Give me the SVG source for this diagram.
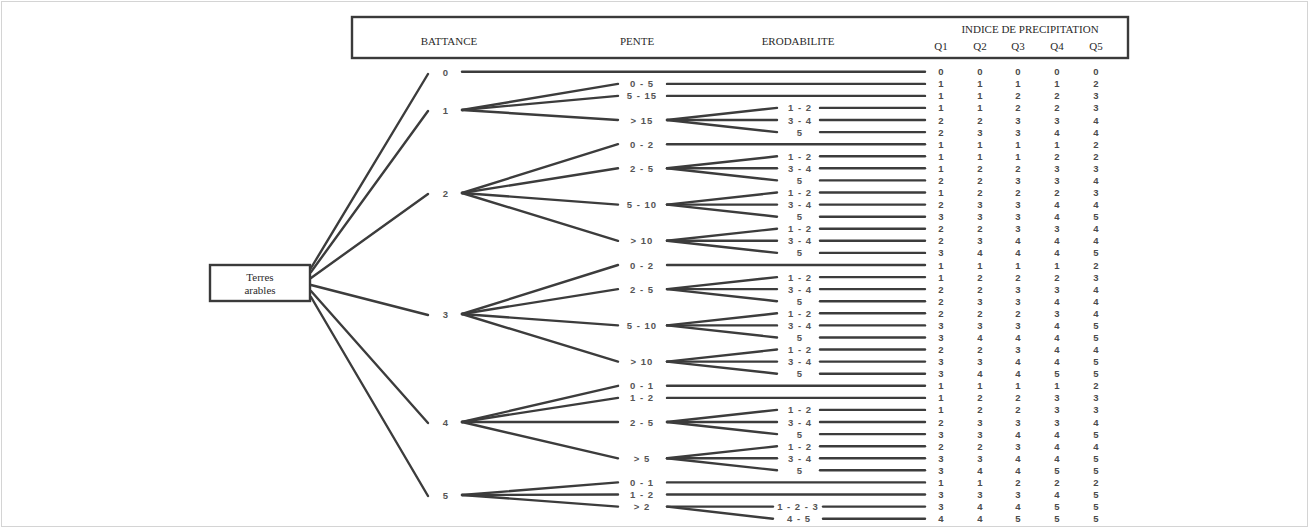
<svg xmlns="http://www.w3.org/2000/svg" width="1309" height="528" viewBox="0 0 1309 528">
<style>
.frame{fill:#fff;stroke:#d4d4d4;stroke-width:1}
.box{fill:#fff;stroke:#3a3a3a;stroke-width:2.4}
.hd{font-family:"Liberation Serif","Times New Roman",serif;font-size:11px;fill:#2a2a2a;text-anchor:middle;dominant-baseline:central}
.lbl{font-family:"Liberation Sans",Arial,sans-serif;font-size:9.5px;fill:#555;text-anchor:middle;dominant-baseline:central;letter-spacing:1px;font-weight:bold}
.val{font-family:"Liberation Sans",Arial,sans-serif;font-size:9.5px;fill:#4a4a4a;text-anchor:middle;dominant-baseline:central;font-weight:bold}
.c line{stroke:#3c3c3c;stroke-width:2.4;stroke-linecap:round}
</style>
<rect class="frame" x="1.5" y="1.5" width="1306" height="525"/>

<g id="header">
<rect class="box" x="352" y="17" width="776" height="41"/>
<text class="hd" x="449" y="41">BATTANCE</text>
<text class="hd" x="637" y="41">PENTE</text>
<text class="hd" x="798" y="41">ERODABILITE</text>
<text class="hd" x="1030" y="29">INDICE DE PRECIPITATION</text>
<text class="hd" x="941" y="46">Q1</text>
<text class="hd" x="980" y="46">Q2</text>
<text class="hd" x="1018" y="46">Q3</text>
<text class="hd" x="1057" y="46">Q4</text>
<text class="hd" x="1096" y="46">Q5</text>
</g>

<g id="terres-arables">
<rect class="box" x="210" y="265" width="100" height="36"/>
<text class="hd" x="260" y="277">Terres</text>
<text class="hd" x="260" y="290">arables</text>
</g>

<g id="connectors" class="c">
<!-- root to battance -->
<line x1="311" y1="268" x2="428" y2="74"/>
<line x1="311" y1="272" x2="428" y2="111"/>
<line x1="311" y1="278" x2="428" y2="194"/>
<line x1="311" y1="285" x2="428" y2="315"/>
<line x1="311" y1="291" x2="428" y2="423"/>
<line x1="311" y1="297" x2="428" y2="496"/>
<!-- battance 0 -->
<line x1="462" y1="71.7" x2="925" y2="71.7"/>
<!-- battance 1 fan -->
<line x1="462" y1="110" x2="618" y2="83.9"/>
<line x1="462" y1="110" x2="618" y2="95.9"/>
<line x1="462" y1="110" x2="618" y2="120"/>
<!-- battance 2 fan -->
<line x1="462" y1="193" x2="618" y2="144.2"/>
<line x1="462" y1="193" x2="618" y2="168.3"/>
<line x1="462" y1="193" x2="618" y2="204.6"/>
<line x1="462" y1="193" x2="618" y2="240.8"/>
<!-- battance 3 fan -->
<line x1="462" y1="314" x2="618" y2="265"/>
<line x1="462" y1="314" x2="618" y2="289.1"/>
<line x1="462" y1="314" x2="618" y2="325.4"/>
<line x1="462" y1="314" x2="618" y2="361.6"/>
<!-- battance 4 fan -->
<line x1="462" y1="422" x2="618" y2="385.8"/>
<line x1="462" y1="422" x2="618" y2="397.9"/>
<line x1="462" y1="422" x2="618" y2="422"/>
<line x1="462" y1="422" x2="618" y2="458.3"/>
<!-- battance 5 fan -->
<line x1="462" y1="495" x2="618" y2="482.4"/>
<line x1="462" y1="495" x2="618" y2="494.5"/>
<line x1="462" y1="495" x2="618" y2="506.6"/>
<!-- pente straight lines -->
<line x1="667" y1="83.9" x2="925" y2="83.9"/>
<line x1="667" y1="95.9" x2="925" y2="95.9"/>
<line x1="667" y1="144.2" x2="925" y2="144.2"/>
<line x1="667" y1="265" x2="925" y2="265"/>
<line x1="667" y1="385.8" x2="925" y2="385.8"/>
<line x1="667" y1="397.9" x2="925" y2="397.9"/>
<line x1="667" y1="482.4" x2="925" y2="482.4"/>
<line x1="667" y1="494.5" x2="925" y2="494.5"/>
<!-- pente to erodabilite fans -->
<line x1="667" y1="120" x2="777" y2="107.9"/><line x1="667" y1="120" x2="777" y2="120"/><line x1="667" y1="120" x2="777" y2="132.1"/>
<line x1="667" y1="168.3" x2="777" y2="156.3"/><line x1="667" y1="168.3" x2="777" y2="168.3"/><line x1="667" y1="168.3" x2="777" y2="180.4"/>
<line x1="667" y1="204.6" x2="777" y2="192.5"/><line x1="667" y1="204.6" x2="777" y2="204.6"/><line x1="667" y1="204.6" x2="777" y2="216.7"/>
<line x1="667" y1="240.8" x2="777" y2="228.7"/><line x1="667" y1="240.8" x2="777" y2="240.8"/><line x1="667" y1="240.8" x2="777" y2="252.9"/>
<line x1="667" y1="289.1" x2="777" y2="277.1"/><line x1="667" y1="289.1" x2="777" y2="289.1"/><line x1="667" y1="289.1" x2="777" y2="301.2"/>
<line x1="667" y1="325.4" x2="777" y2="313.3"/><line x1="667" y1="325.4" x2="777" y2="325.4"/><line x1="667" y1="325.4" x2="777" y2="337.5"/>
<line x1="667" y1="361.6" x2="777" y2="349.5"/><line x1="667" y1="361.6" x2="777" y2="361.6"/><line x1="667" y1="361.6" x2="777" y2="373.7"/>
<line x1="667" y1="422" x2="777" y2="409.9"/><line x1="667" y1="422" x2="777" y2="422"/><line x1="667" y1="422" x2="777" y2="434.1"/>
<line x1="667" y1="458.3" x2="777" y2="446.2"/><line x1="667" y1="458.3" x2="777" y2="458.3"/><line x1="667" y1="458.3" x2="777" y2="470.3"/>
<line x1="667" y1="506.6" x2="773" y2="506.6"/><line x1="667" y1="506.6" x2="773" y2="518.7"/>
<!-- erodabilite to values -->
<line x1="820" y1="107.9" x2="925" y2="107.9"/><line x1="820" y1="120" x2="925" y2="120"/><line x1="820" y1="132.1" x2="925" y2="132.1"/>
<line x1="820" y1="156.3" x2="925" y2="156.3"/><line x1="820" y1="168.3" x2="925" y2="168.3"/><line x1="820" y1="180.4" x2="925" y2="180.4"/>
<line x1="820" y1="192.5" x2="925" y2="192.5"/><line x1="820" y1="204.6" x2="925" y2="204.6"/><line x1="820" y1="216.7" x2="925" y2="216.7"/>
<line x1="820" y1="228.7" x2="925" y2="228.7"/><line x1="820" y1="240.8" x2="925" y2="240.8"/><line x1="820" y1="252.9" x2="925" y2="252.9"/>
<line x1="820" y1="277.1" x2="925" y2="277.1"/><line x1="820" y1="289.1" x2="925" y2="289.1"/><line x1="820" y1="301.2" x2="925" y2="301.2"/>
<line x1="820" y1="313.3" x2="925" y2="313.3"/><line x1="820" y1="325.4" x2="925" y2="325.4"/><line x1="820" y1="337.5" x2="925" y2="337.5"/>
<line x1="820" y1="349.5" x2="925" y2="349.5"/><line x1="820" y1="361.6" x2="925" y2="361.6"/><line x1="820" y1="373.7" x2="925" y2="373.7"/>
<line x1="820" y1="409.9" x2="925" y2="409.9"/><line x1="820" y1="422" x2="925" y2="422"/><line x1="820" y1="434.1" x2="925" y2="434.1"/>
<line x1="820" y1="446.2" x2="925" y2="446.2"/><line x1="820" y1="458.3" x2="925" y2="458.3"/><line x1="820" y1="470.3" x2="925" y2="470.3"/>
<line x1="823" y1="506.6" x2="925" y2="506.6"/><line x1="823" y1="518.7" x2="925" y2="518.7"/>
</g>

<g id="battance">
<text class="lbl" x="446" y="72">0</text>
<text class="lbl" x="446" y="110">1</text>
<text class="lbl" x="446" y="193">2</text>
<text class="lbl" x="446" y="314">3</text>
<text class="lbl" x="446" y="422">4</text>
<text class="lbl" x="446" y="495">5</text>
</g>

<g id="pente">
<text class="lbl" x="642" y="83.9">0 - 5</text>
<text class="lbl" x="642" y="95.9">5 - 15</text>
<text class="lbl" x="642" y="120">&gt; 15</text>
<text class="lbl" x="642" y="144.2">0 - 2</text>
<text class="lbl" x="642" y="168.3">2 - 5</text>
<text class="lbl" x="642" y="204.6">5 - 10</text>
<text class="lbl" x="642" y="240.8">&gt; 10</text>
<text class="lbl" x="642" y="265">0 - 2</text>
<text class="lbl" x="642" y="289.1">2 - 5</text>
<text class="lbl" x="642" y="325.4">5 - 10</text>
<text class="lbl" x="642" y="361.6">&gt; 10</text>
<text class="lbl" x="642" y="385.8">0 - 1</text>
<text class="lbl" x="642" y="397.9">1 - 2</text>
<text class="lbl" x="642" y="422">2 - 5</text>
<text class="lbl" x="642" y="458.3">&gt; 5</text>
<text class="lbl" x="642" y="482.4">0 - 1</text>
<text class="lbl" x="642" y="494.5">1 - 2</text>
<text class="lbl" x="642" y="506.6">&gt; 2</text>
</g>

<g id="erodabilite">
<text class="lbl" x="800" y="107.9">1 - 2</text><text class="lbl" x="800" y="120">3 - 4</text><text class="lbl" x="800" y="132.1">5</text>
<text class="lbl" x="800" y="156.3">1 - 2</text><text class="lbl" x="800" y="168.3">3 - 4</text><text class="lbl" x="800" y="180.4">5</text>
<text class="lbl" x="800" y="192.5">1 - 2</text><text class="lbl" x="800" y="204.6">3 - 4</text><text class="lbl" x="800" y="216.7">5</text>
<text class="lbl" x="800" y="228.7">1 - 2</text><text class="lbl" x="800" y="240.8">3 - 4</text><text class="lbl" x="800" y="252.9">5</text>
<text class="lbl" x="800" y="277.1">1 - 2</text><text class="lbl" x="800" y="289.1">3 - 4</text><text class="lbl" x="800" y="301.2">5</text>
<text class="lbl" x="800" y="313.3">1 - 2</text><text class="lbl" x="800" y="325.4">3 - 4</text><text class="lbl" x="800" y="337.5">5</text>
<text class="lbl" x="800" y="349.5">1 - 2</text><text class="lbl" x="800" y="361.6">3 - 4</text><text class="lbl" x="800" y="373.7">5</text>
<text class="lbl" x="800" y="409.9">1 - 2</text><text class="lbl" x="800" y="422">3 - 4</text><text class="lbl" x="800" y="434.1">5</text>
<text class="lbl" x="800" y="446.2">1 - 2</text><text class="lbl" x="800" y="458.3">3 - 4</text><text class="lbl" x="800" y="470.3">5</text>
<text class="lbl" x="798" y="506.6">1 - 2 - 3</text><text class="lbl" x="799" y="518.7">4 - 5</text>
</g>

<g id="indices">
<g transform="translate(0,71.7)"><text class="val" x="941">0</text><text class="val" x="980">0</text><text class="val" x="1018">0</text><text class="val" x="1057">0</text><text class="val" x="1096">0</text></g>
<g transform="translate(0,83.9)"><text class="val" x="941">1</text><text class="val" x="980">1</text><text class="val" x="1018">1</text><text class="val" x="1057">1</text><text class="val" x="1096">2</text></g>
<g transform="translate(0,95.9)"><text class="val" x="941">1</text><text class="val" x="980">1</text><text class="val" x="1018">2</text><text class="val" x="1057">2</text><text class="val" x="1096">3</text></g>
<g transform="translate(0,107.9)"><text class="val" x="941">1</text><text class="val" x="980">1</text><text class="val" x="1018">2</text><text class="val" x="1057">2</text><text class="val" x="1096">3</text></g>
<g transform="translate(0,120)"><text class="val" x="941">2</text><text class="val" x="980">2</text><text class="val" x="1018">3</text><text class="val" x="1057">3</text><text class="val" x="1096">4</text></g>
<g transform="translate(0,132.1)"><text class="val" x="941">2</text><text class="val" x="980">3</text><text class="val" x="1018">3</text><text class="val" x="1057">4</text><text class="val" x="1096">4</text></g>
<g transform="translate(0,144.2)"><text class="val" x="941">1</text><text class="val" x="980">1</text><text class="val" x="1018">1</text><text class="val" x="1057">1</text><text class="val" x="1096">2</text></g>
<g transform="translate(0,156.3)"><text class="val" x="941">1</text><text class="val" x="980">1</text><text class="val" x="1018">1</text><text class="val" x="1057">2</text><text class="val" x="1096">2</text></g>
<g transform="translate(0,168.3)"><text class="val" x="941">1</text><text class="val" x="980">2</text><text class="val" x="1018">2</text><text class="val" x="1057">3</text><text class="val" x="1096">3</text></g>
<g transform="translate(0,180.4)"><text class="val" x="941">2</text><text class="val" x="980">2</text><text class="val" x="1018">3</text><text class="val" x="1057">3</text><text class="val" x="1096">4</text></g>
<g transform="translate(0,192.5)"><text class="val" x="941">1</text><text class="val" x="980">2</text><text class="val" x="1018">2</text><text class="val" x="1057">2</text><text class="val" x="1096">3</text></g>
<g transform="translate(0,204.6)"><text class="val" x="941">2</text><text class="val" x="980">3</text><text class="val" x="1018">3</text><text class="val" x="1057">4</text><text class="val" x="1096">4</text></g>
<g transform="translate(0,216.7)"><text class="val" x="941">3</text><text class="val" x="980">3</text><text class="val" x="1018">3</text><text class="val" x="1057">4</text><text class="val" x="1096">5</text></g>
<g transform="translate(0,228.7)"><text class="val" x="941">2</text><text class="val" x="980">2</text><text class="val" x="1018">3</text><text class="val" x="1057">3</text><text class="val" x="1096">4</text></g>
<g transform="translate(0,240.8)"><text class="val" x="941">2</text><text class="val" x="980">3</text><text class="val" x="1018">4</text><text class="val" x="1057">4</text><text class="val" x="1096">4</text></g>
<g transform="translate(0,252.9)"><text class="val" x="941">3</text><text class="val" x="980">4</text><text class="val" x="1018">4</text><text class="val" x="1057">4</text><text class="val" x="1096">5</text></g>
<g transform="translate(0,265)"><text class="val" x="941">1</text><text class="val" x="980">1</text><text class="val" x="1018">1</text><text class="val" x="1057">1</text><text class="val" x="1096">2</text></g>
<g transform="translate(0,277.1)"><text class="val" x="941">1</text><text class="val" x="980">2</text><text class="val" x="1018">2</text><text class="val" x="1057">2</text><text class="val" x="1096">3</text></g>
<g transform="translate(0,289.1)"><text class="val" x="941">2</text><text class="val" x="980">2</text><text class="val" x="1018">3</text><text class="val" x="1057">3</text><text class="val" x="1096">4</text></g>
<g transform="translate(0,301.2)"><text class="val" x="941">2</text><text class="val" x="980">3</text><text class="val" x="1018">3</text><text class="val" x="1057">4</text><text class="val" x="1096">4</text></g>
<g transform="translate(0,313.3)"><text class="val" x="941">2</text><text class="val" x="980">2</text><text class="val" x="1018">2</text><text class="val" x="1057">3</text><text class="val" x="1096">4</text></g>
<g transform="translate(0,325.4)"><text class="val" x="941">3</text><text class="val" x="980">3</text><text class="val" x="1018">3</text><text class="val" x="1057">4</text><text class="val" x="1096">5</text></g>
<g transform="translate(0,337.5)"><text class="val" x="941">3</text><text class="val" x="980">4</text><text class="val" x="1018">4</text><text class="val" x="1057">4</text><text class="val" x="1096">5</text></g>
<g transform="translate(0,349.5)"><text class="val" x="941">2</text><text class="val" x="980">2</text><text class="val" x="1018">3</text><text class="val" x="1057">4</text><text class="val" x="1096">4</text></g>
<g transform="translate(0,361.6)"><text class="val" x="941">3</text><text class="val" x="980">3</text><text class="val" x="1018">4</text><text class="val" x="1057">4</text><text class="val" x="1096">5</text></g>
<g transform="translate(0,373.7)"><text class="val" x="941">3</text><text class="val" x="980">4</text><text class="val" x="1018">4</text><text class="val" x="1057">5</text><text class="val" x="1096">5</text></g>
<g transform="translate(0,385.8)"><text class="val" x="941">1</text><text class="val" x="980">1</text><text class="val" x="1018">1</text><text class="val" x="1057">1</text><text class="val" x="1096">2</text></g>
<g transform="translate(0,397.9)"><text class="val" x="941">1</text><text class="val" x="980">2</text><text class="val" x="1018">2</text><text class="val" x="1057">3</text><text class="val" x="1096">3</text></g>
<g transform="translate(0,409.9)"><text class="val" x="941">1</text><text class="val" x="980">2</text><text class="val" x="1018">2</text><text class="val" x="1057">3</text><text class="val" x="1096">3</text></g>
<g transform="translate(0,422)"><text class="val" x="941">2</text><text class="val" x="980">3</text><text class="val" x="1018">3</text><text class="val" x="1057">3</text><text class="val" x="1096">4</text></g>
<g transform="translate(0,434.1)"><text class="val" x="941">3</text><text class="val" x="980">3</text><text class="val" x="1018">4</text><text class="val" x="1057">4</text><text class="val" x="1096">5</text></g>
<g transform="translate(0,446.2)"><text class="val" x="941">2</text><text class="val" x="980">2</text><text class="val" x="1018">3</text><text class="val" x="1057">4</text><text class="val" x="1096">4</text></g>
<g transform="translate(0,458.3)"><text class="val" x="941">3</text><text class="val" x="980">3</text><text class="val" x="1018">4</text><text class="val" x="1057">4</text><text class="val" x="1096">5</text></g>
<g transform="translate(0,470.3)"><text class="val" x="941">3</text><text class="val" x="980">4</text><text class="val" x="1018">4</text><text class="val" x="1057">5</text><text class="val" x="1096">5</text></g>
<g transform="translate(0,482.4)"><text class="val" x="941">1</text><text class="val" x="980">1</text><text class="val" x="1018">2</text><text class="val" x="1057">2</text><text class="val" x="1096">2</text></g>
<g transform="translate(0,494.5)"><text class="val" x="941">3</text><text class="val" x="980">3</text><text class="val" x="1018">3</text><text class="val" x="1057">4</text><text class="val" x="1096">5</text></g>
<g transform="translate(0,506.6)"><text class="val" x="941">3</text><text class="val" x="980">4</text><text class="val" x="1018">4</text><text class="val" x="1057">5</text><text class="val" x="1096">5</text></g>
<g transform="translate(0,518.7)"><text class="val" x="941">4</text><text class="val" x="980">4</text><text class="val" x="1018">5</text><text class="val" x="1057">5</text><text class="val" x="1096">5</text></g>
</g>
</svg>
